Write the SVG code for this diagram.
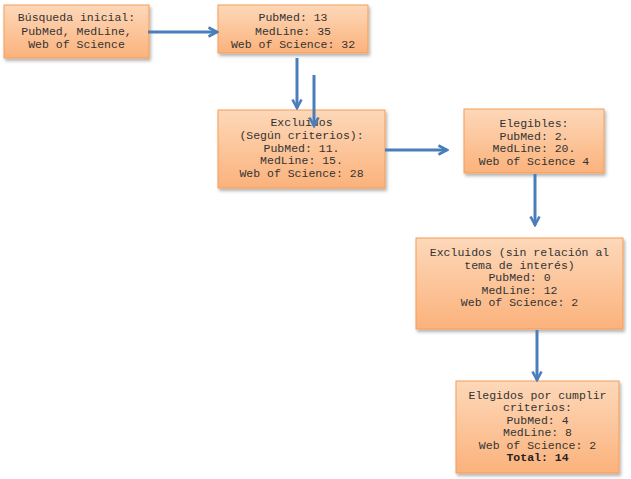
<svg xmlns="http://www.w3.org/2000/svg" width="631" height="479" viewBox="0 0 631 479">
<defs>
<linearGradient id="g" x1="0" y1="0" x2="0" y2="1">
<stop offset="0" stop-color="#fdd8b9"/>
<stop offset="1" stop-color="#fbb27c"/>
</linearGradient>
<filter id="sh" x="-10%" y="-10%" width="130%" height="140%">
<feDropShadow dx="1.5" dy="2.5" stdDeviation="1.5" flood-color="#000" flood-opacity="0.3"/>
</filter>
<marker id="ah" viewBox="0 0 12 12" refX="10" refY="6" markerWidth="12" markerHeight="12" markerUnits="userSpaceOnUse" orient="auto">
<path d="M1.5,1.5 L10,6 L1.5,10.5" fill="none" stroke="#4a7ebb" stroke-width="2.6" stroke-linejoin="miter"/>
</marker>
</defs>
<style>
.box{fill:url(#g);stroke:#f59d56;stroke-width:1;filter:url(#sh)}
text{font-family:"Liberation Mono","Courier New",monospace;font-size:11.5px;fill:#333;text-anchor:middle}
.b{font-weight:bold;fill:#222}
.c{stroke:#4a7ebb;stroke-width:3;fill:none;marker-end:url(#ah)}
</style>
<rect width="631" height="479" fill="#fff"/>
<g id="n1">
<rect class="box" x="4" y="5" width="145" height="53"/>
<text x="76.5" y="21">Búsqueda inicial:</text>
<text x="76.5" y="34.5">PubMed, MedLine,</text>
<text x="76.5" y="48">Web of Science</text>
</g>
<g id="n2">
<rect class="box" x="218" y="5" width="150" height="48"/>
<text x="293" y="21">PubMed: 13</text>
<text x="293" y="34.5">MedLine: 35</text>
<text x="293" y="48">Web of Science: 32</text>
</g>
<g id="n3">
<rect class="box" x="218" y="110" width="167" height="78"/>
<text x="301.5" y="126">Excluidos</text>
<text x="301.5" y="138.8">(Según criterios):</text>
<text x="301.5" y="151.5">PubMed: 11.</text>
<text x="301.5" y="164.3">MedLine: 15.</text>
<text x="301.5" y="177">Web of Science: 28</text>
</g>
<g id="n4">
<rect class="box" x="464" y="109" width="140" height="64"/>
<text x="534" y="127">Elegibles:</text>
<text x="534" y="139.7">PubMed: 2.</text>
<text x="534" y="152.4">MedLine: 20.</text>
<text x="534" y="165">Web of Science 4</text>
</g>
<g id="n5">
<rect class="box" x="416" y="238" width="207" height="91"/>
<text x="519.5" y="256">Excluidos (sin relación al</text>
<text x="519.5" y="268.5">tema de interés)</text>
<text x="519.5" y="281">PubMed: 0</text>
<text x="519.5" y="293.5">MedLine: 12</text>
<text x="519.5" y="306">Web of Science: 2</text>
</g>
<g id="n6">
<rect class="box" x="456" y="381" width="163" height="92"/>
<text x="537.5" y="399">Elegidos por cumplir</text>
<text x="537.5" y="411.4">criterios:</text>
<text x="537.5" y="423.8">PubMed: 4</text>
<text x="537.5" y="436.2">MedLine: 8</text>
<text x="537.5" y="448.6">Web of Science: 2</text>
<text class="b" x="537.5" y="461">Total: 14</text>
</g>
<g id="connectors">
<line class="c" x1="148" y1="32" x2="217" y2="32"/>
<line class="c" x1="297" y1="58" x2="297" y2="108"/>
<line class="c" x1="314" y1="75" x2="314" y2="126"/>
<line class="c" x1="385" y1="150" x2="447" y2="150"/>
<line class="c" x1="535" y1="174" x2="535" y2="225"/>
<line class="c" x1="537" y1="330" x2="537" y2="380"/>
</g>
</svg>
